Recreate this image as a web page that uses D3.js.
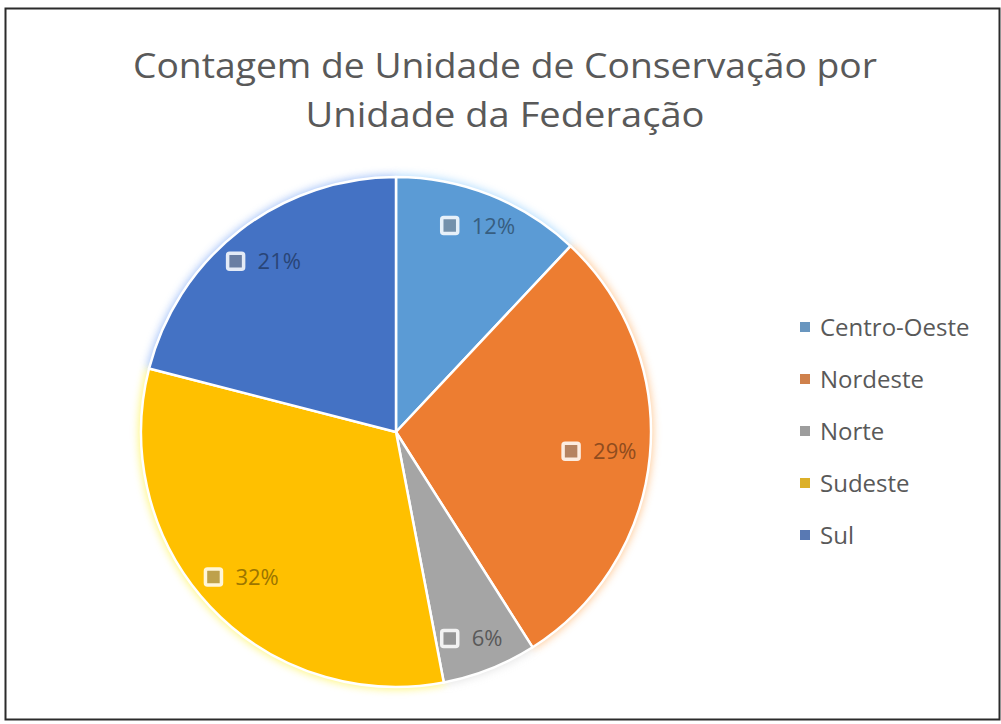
<!DOCTYPE html>
<html>
<head>
<meta charset="utf-8">
<script src="https://cdn.jsdelivr.net/npm/d3@7/dist/d3.min.js"></script>
<style>
  html, body { margin: 0; padding: 0; background: #fff; }
  svg { display: block; }
</style>
</head>
<body>
<div id="chart"></div>
<script>
// dados
const regioes = ["Centro-Oeste", "Nordeste", "Norte", "Sudeste", "Sul"];
const contagem = [12, 29, 6, 32, 21];
const tituloLinhas = ["Contagem de Unidade de Conservação por", "Unidade da Federação"];

const W = 1001, H = 724;
const cx = 396, cy = 432, raio = 255, raioRotulo = 222;
const fonte = "'Open Sans', 'Noto Sans', sans-serif";
const corTexto = "#595959";

const cor = d3.scaleOrdinal()
    .domain(regioes)
    .range(["#5b9bd5", "#ed7d31", "#a5a5a5", "#ffc000", "#4472c4"]);

const svg = d3.select("#chart").append("svg")
    .attr("width", W)
    .attr("height", H);

// moldura
svg.append("rect")
    .attr("x", 5.5).attr("y", 8.5)
    .attr("width", 994).attr("height", 711)
    .attr("fill", "#fff")
    .attr("stroke", "#2b2b2b")
    .attr("stroke-width", 2);

// título
svg.append("g").selectAll("text")
    .data(tituloLinhas)
    .join("text")
    .attr("x", 505)
    .attr("y", (d, i) => 78 + i * 49)
    .attr("text-anchor", "middle")
    .attr("textLength", (d, i) => i === 0 ? 744 : 399)
    .attr("lengthAdjust", "spacingAndGlyphs")
    .style("font-family", fonte)
    .style("font-size", "35px")
    .style("fill", corTexto)
    .text(d => d);

// brilho suave em volta das fatias
const defs = svg.append("defs");
defs.append("filter")
    .attr("id", "brilho")
    .attr("x", "-20%").attr("y", "-20%")
    .attr("width", "140%").attr("height", "140%")
    .append("feGaussianBlur")
    .attr("stdDeviation", 4);

const pie = d3.pie().sort(null).value(d => d.v);
const dados = regioes.map((r, i) => ({ r, v: contagem[i] }));
const arcos = pie(dados);
const total = d3.sum(contagem);

const arc = d3.arc().innerRadius(0).outerRadius(raio);

const g = svg.append("g").attr("transform", `translate(${cx},${cy})`);

g.append("g").selectAll("path")
    .data(arcos)
    .join("path")
    .attr("d", d3.arc().innerRadius(0).outerRadius(raio + 2))
    .attr("fill", d => d3.color(cor(d.data.r)).brighter(0.6))
    .attr("opacity", 0.55)
    .attr("filter", "url(#brilho)");

g.append("g").selectAll("path")
    .data(arcos)
    .join("path")
    .attr("d", arc)
    .attr("fill", d => cor(d.data.r))
    .attr("stroke", "#fff")
    .attr("stroke-width", 2.5)
    .attr("stroke-linejoin", "round");

// rótulos de dados
const fmt = d3.format(".0%");
const rot = g.append("g").selectAll("g")
    .data(arcos)
    .join("g");

rot.append("rect")
    .attr("x", -8).attr("y", -8)
    .attr("width", 16).attr("height", 16)
    .attr("rx", 2)
    .attr("fill", d => d3.interpolateRgb(cor(d.data.r), "#888")(0.55))
    .attr("stroke", d => d3.interpolateRgb(cor(d.data.r), "#fff")(0.85))
    .attr("stroke-width", 3.5);

rot.append("text")
    .attr("x", 22)
    .attr("dy", "0.36em")
    .style("font-family", fonte)
    .style("font-size", "22px")
    .style("fill", d => d.data.r === "Norte" ? "#595959" : d3.color(cor(d.data.r)).darker(1.4))
    .text(d => fmt(d.data.v / total));

// "melhor ajuste": puxa o rótulo para dentro até caber na fatia
rot.attr("transform", function (d) {
    const larg = d3.select(this).select("text").node().getComputedTextLength();
    const a = (d.startAngle + d.endAngle) / 2;
    let R = raioRotulo, x, y;
    for (; R > 60; R -= 1) {
        x = Math.sin(a) * R - 28;
        y = -Math.cos(a) * R;
        const esq = Math.hypot(x - 10, y), dir = Math.hypot(x + 22 + larg, y);
        if (Math.max(esq, dir) <= 242) break;
    }
    return `translate(${x},${y})`;
});

// legenda
const legenda = svg.append("g")
    .attr("transform", "translate(800,327)");

const itens = legenda.selectAll("g")
    .data(regioes)
    .join("g")
    .attr("transform", (d, i) => `translate(0,${i * 52})`);

itens.append("rect")
    .attr("x", 0).attr("y", -5)
    .attr("width", 10).attr("height", 10)
    .attr("fill", d => d3.interpolateRgb(cor(d), "#8a8a8a")(0.3));

itens.append("text")
    .attr("x", 20)
    .attr("dy", "0.36em")
    .style("font-family", fonte)
    .style("font-size", "24px")
    .style("fill", corTexto)
    .text(d => d);
</script>
</body>
</html>
